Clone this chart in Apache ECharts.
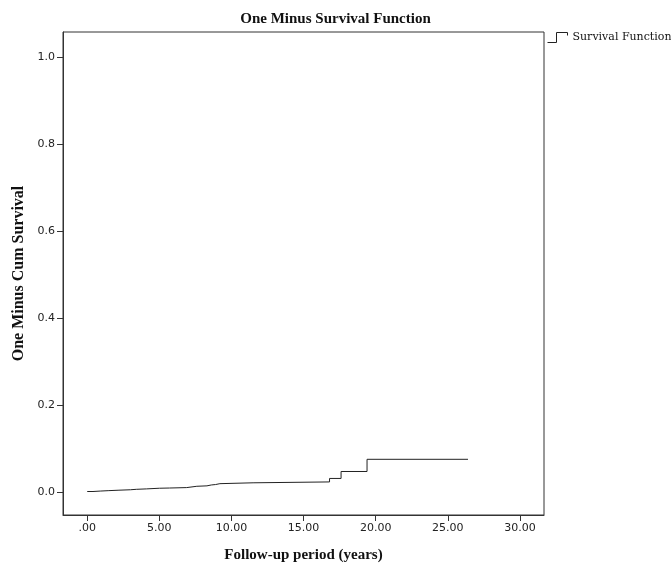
<!DOCTYPE html>
<html><head><meta charset="utf-8">
<script src="https://cdn.jsdelivr.net/npm/echarts@6/dist/echarts.min.js"></script>
<style>html,body{margin:0;padding:0;background:#fff}#c{width:671px;height:568px}</style>
</head><body><div id="c"></div>
<script>
// Step times (years) and one-minus-cumulative-survival values
const times  = [0.0, 0.4, 0.9, 1.5, 2.2, 3.0, 3.4, 4.1, 5.0, 5.7, 6.9, 7.6, 8.3, 8.6, 8.9, 9.2, 11.5, 16.8, 17.6, 19.4, 26.4];
const values = [0.001,0.002,0.003,0.004,0.005,0.006,0.007,0.0085,0.009,0.010,0.013,0.014,0.016,0.017,0.019,0.021,0.023,0.031,0.047,0.075,0.075];
const xTicks = [0, 5, 10, 15, 20, 25, 30];
const yTicks = [0, 0.2, 0.4, 0.6, 0.8, 1.0];

const chart = echarts.init(document.getElementById('c'));
const serif = '"Liberation Serif", "Times New Roman", serif';
chart.setOption({
  animation: false,
  backgroundColor: '#fff',
  title: {
    text: 'One Minus Survival Function',
    left: 'center', top: 7,
    textStyle: { fontFamily: serif, fontWeight: 'bold', fontSize: 15, color: '#111' }
  },
  legend: {
    data: ['Survival Function'],
    left: 547, top: 32, padding: 0,
    itemWidth: 20, itemHeight: 11, itemGap: 2,
    icon: 'path://M0,10 L9,10 L9,0 L20,0 L20,3',
    itemStyle: { color: 'transparent', borderColor: '#222', borderWidth: 1 },
    textStyle: { fontFamily: '"DejaVu Serif", serif', fontSize: 11, color: '#111' }
  },
  grid: {
    left: 63, top: 32, width: 481, height: 483,
    outerBoundsMode: 'none', containLabel: false,
    show: true, borderColor: '#333', borderWidth: 1, backgroundColor: 'transparent'
  },
  xAxis: {
    type: 'value', min: -1.68, max: 31.67,
    name: 'Follow-up period (years)', nameLocation: 'middle', nameGap: 33,
    nameTextStyle: { fontFamily: serif, fontWeight: 'bold', fontSize: 15, color: '#111' },
    axisLine: { show: true, onZero: false, lineStyle: { color: '#333', width: 1 } },
    axisTick: { show: true, length: 6, inside: false, customValues: xTicks, lineStyle: { color: '#333' } },
    axisLabel: { customValues: xTicks, margin: 8, fontFamily: '"DejaVu Sans", sans-serif', fontSize: 11, color: '#222',
      formatter: v => v === 0 ? '.00' : v.toFixed(2) },
    splitLine: { show: false }
  },
  yAxis: {
    type: 'value', min: -0.053, max: 1.057,
    name: 'One Minus Cum Survival', nameLocation: 'middle', nameGap: 35,
    nameTextStyle: { fontFamily: serif, fontWeight: 'bold', fontSize: 16, color: '#111' },
    axisLine: { show: true, onZero: false, lineStyle: { color: '#333', width: 1 } },
    axisTick: { show: true, length: 6, inside: false, customValues: yTicks, lineStyle: { color: '#333' } },
    axisLabel: { customValues: yTicks, margin: 8, fontFamily: '"DejaVu Sans", sans-serif', fontSize: 11, color: '#222',
      formatter: v => v.toFixed(1) },
    splitLine: { show: false }
  },
  series: [{
    name: 'Survival Function',
    type: 'line', step: 'end', symbol: 'none',
    data: times.map((t, i) => [t, values[i]]),
    lineStyle: { color: '#222', width: 1 },
    itemStyle: { color: '#222' }
  }]
});
</script></body></html>
